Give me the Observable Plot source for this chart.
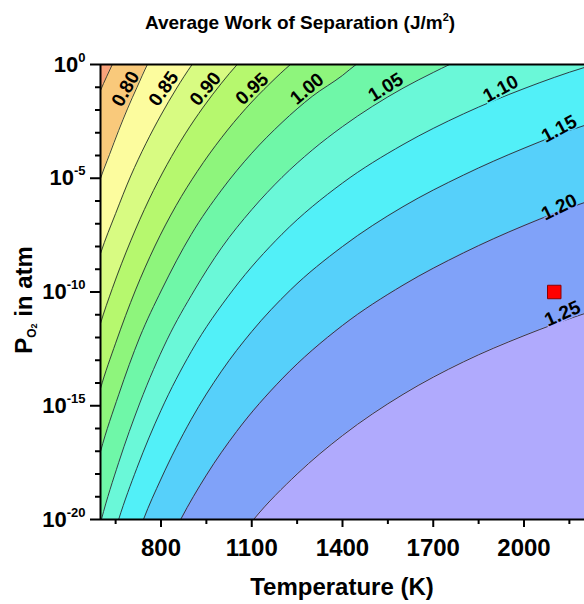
<!DOCTYPE html>
<html><head><meta charset="utf-8">
<script src="https://cdn.jsdelivr.net/npm/d3@7"></script>
<script src="https://cdn.jsdelivr.net/npm/@observablehq/plot@0.6"></script>
<style>body{margin:0;background:#fff}</style>
</head><body><div id="chart"></div>
<script>
// contour levels and the fill colour of each band (first = below the lowest level)
const levels = [0.75, 0.80, 0.85, 0.90, 0.95, 1.00, 1.05, 1.10, 1.15, 1.20, 1.25];
const bandColors = ["#f9a27a", "#f9c97b", "#fcfc9e", "#d8fb82", "#b6f86e", "#8ef57c",
                    "#6ff7a8", "#6af8d8", "#52f0f8", "#56d0fa", "#80a2f9", "#b0aafd"];

// contour lines: [Temperature K, log10(P_O2 / atm)]
const c075 = [[580,-1.79],[600,-1.14],[620,-0.54],[639,0],[660,0.57],[2400,2]];
const c080 = [[580,-5.86],[600,-5.01],[630,-3.95],[660,-2.9],[690,-1.92],[720,-1.02],[755,0],[790,0.86],[2400,2]];
const c085 = [[580,-9.16],[600,-8.31],[650,-6.55],[700,-4.9],[750,-3.48],[800,-2.22],[850,-1.08],[903,0],[950,0.81],[2400,2]];
const c090 = [[580,-12.29],[600,-11.38],[639,-9.85],[700,-7.75],[760,-5.95],[820,-4.4],[880,-3.05],[940,-1.87],[1000,-0.82],[1052,0],[1100,0.66],[2400,2]];
const c095 = [[580,-15.2],[600,-14.24],[650,-12.25],[716,-9.91],[780,-7.98],[850,-6.2],[920,-4.7],[1000,-3.22],[1080,-1.94],[1160,-0.84],[1228,0],[1280,0.55],[2400,2]];
const c100 = [[580,-18.02],[600,-17.01],[660,-14.52],[730,-11.98],[802,-9.91],[900,-7.47],[1000,-5.52],[1100,-3.9],[1200,-2.55],[1300,-1.4],[1400,-0.48],[1445,0],[1500,0.44],[2400,2]];
const c105 = [[580,-21.22],[603,-20],[660,-17.5],[730,-14.88],[820,-12.1],[911,-9.91],[1000,-8.06],[1100,-6.38],[1200,-4.96],[1300,-3.76],[1400,-2.73],[1500,-1.83],[1600,-1.04],[1700,-0.35],[1754,0],[1820,0.38],[2400,2]];
const c110 = [[640,-20.88],[660,-20],[720,-17.75],[800,-15.2],[900,-12.62],[1038,-9.91],[1200,-7.46],[1400,-5.21],[1600,-3.52],[1800,-2.17],[2000,-1.06],[2200,-0.13],[2260,0.1]];
const c115 = [[720,-20.8],[742,-20],[800,-18.22],[900,-15.6],[1000,-13.48],[1100,-11.74],[1228,-9.91],[1400,-8.0],[1600,-6.25],[1800,-4.86],[2000,-3.68],[2200,-2.68],[2260,-2.45]];
const c120 = [[840,-20.65],[865,-20],[950,-18.05],[1050,-16.13],[1200,-13.82],[1400,-11.47],[1600,-9.7],[1800,-8.28],[2000,-7.08],[2200,-6.07],[2260,-5.83]];
const c125 = [[1080,-20.43],[1106,-20],[1250,-18.0],[1400,-16.31],[1600,-14.5],[1800,-13.07],[2000,-11.92],[2200,-10.95],[2260,-10.7]];
const contours = [c075, c080, c085, c090, c095, c100, c105, c110, c115, c120, c125];

// contour labels
const labelText  = ["0.80","0.85","0.90","0.95","1.00","1.05","1.10","1.15","1.20","1.25"];
const labelT     = [683, 809, 947, 1101, 1283, 1543, 1923, 2116, 2116, 2127];
const labelLogP  = [-1.07, -1.07, -1.07, -1.07, -1.07, -1.0, -1.07, -2.83, -6.27, -10.95];
const labelAngle = [-60, -55, -50, -43, -40, -32, -28, -28, -26, -24];

// marked point
const markerT = [2100];
const markerLogP = [-10];

// axis ticks
const xMajor = [800, 1100, 1400, 1700, 2000];
const xMinor = [650, 950, 1250, 1550, 1850, 2150];
const yMajorExp = [0, -5, -10, -15, -20];
const yMinorExp = [-1,-2,-3,-4,-6,-7,-8,-9,-11,-12,-13,-14,-16,-17,-18,-19];

const P = e => Math.pow(10, e);
const labels = labelText.map((t, i) => ({t, T: labelT[i], p: P(labelLogP[i]), a: labelAngle[i]}));
const markers = markerT.map((T, i) => ({T, p: P(markerLogP[i])}));

const chart = Plot.plot({
  width: 584, height: 604,
  marginTop: 64, marginBottom: 85, marginLeft: 100, marginRight: 0,
  style: {fontFamily: "Arial, 'Liberation Sans', sans-serif", background: "white", color: "black"},
  x: {domain: [600, 2200]},
  y: {type: "log", domain: [1e-20, 1]},
  marks: [
    Plot.frame({fill: bandColors[0], stroke: null}),
    ...contours.map((c, i) => Plot.areaY(c, {
      x: d => d[0], y1: 1e-30, y2: d => P(d[1]),
      fill: bandColors[i + 1], curve: "monotone-x", clip: true
    })),
    ...contours.map(c => Plot.line(c, {
      x: d => d[0], y: d => P(d[1]),
      stroke: "#2b2b2b", strokeWidth: 0.9, curve: "monotone-x", clip: true
    })),
    Plot.text(labels, {x: "T", y: "p", text: "t", rotate: "a", fontSize: 19, fontWeight: "bold", fill: "black"}),
    Plot.dot(markers, {x: "T", y: "p", symbol: "square", r: 7.6, fill: "#ff0000", stroke: "#8b0000", strokeWidth: 1}),
    Plot.ruleX([600], {strokeWidth: 2}),
    Plot.ruleY([1e-20, 1], {strokeWidth: 2}),
    Plot.axisX({ticks: xMajor, tickSize: 8, tickPadding: 11, fontSize: 24, fontWeight: "bold", strokeWidth: 2, tickFormat: d => String(d), label: null}),
    Plot.axisX({ticks: xMinor, tickSize: 5, strokeWidth: 2, tickFormat: () => "", label: null}),
    Plot.axisY({ticks: yMajorExp.map(P), tickSize: 10, tickPadding: 5, fontSize: 22, fontWeight: "bold", strokeWidth: 2,
                tickFormat: d => "10^" + Math.round(Math.log10(d)), label: null}),
    Plot.axisY({ticks: yMinorExp.map(P), tickSize: 5, strokeWidth: 2, tickFormat: () => "", label: null})
  ]
});
document.getElementById("chart").appendChild(chart);

const svg = d3.select(chart);
svg.selectAll("text").each(function() {
  const t = d3.select(this);
  const s = t.text();
  if (!s.includes("^")) return;
  const [base, exp] = s.split("^");
  t.text(base);
  t.append("tspan").attr("dy", -10).attr("font-size", 13).text(exp);
});

// break contour lines under their labels (as the original does)
const labelNodes = svg.selectAll('g[aria-label="text"] text').nodes();
if (labelNodes.length) {
  const defs = svg.append("defs");
  const mask = defs.append("mask").attr("id", "label-gap").attr("maskUnits", "userSpaceOnUse")
    .attr("x", 0).attr("y", 0).attr("width", 584).attr("height", 604);
  mask.append("rect").attr("x", 0).attr("y", 0).attr("width", 584).attr("height", 604).attr("fill", "white");
  const parent = labelNodes[0].parentNode;
  const pt = parent.getAttribute("transform");
  const mg = mask.append("g");
  if (pt) mg.attr("transform", pt);
  for (const n of labelNodes) {
    const c = n.cloneNode(true);
    c.setAttribute("fill", "black");
    c.setAttribute("stroke", "black");
    c.setAttribute("stroke-width", "3");
    c.setAttribute("font-size", "19");
    c.setAttribute("font-weight", "bold");
    c.setAttribute("text-anchor", "middle");
    mg.node().appendChild(c);
  }
  svg.selectAll('g[aria-label="line"]').attr("mask", "url(#label-gap)");
}

// titles
const ttl = svg.append("text").attr("x", 300).attr("y", 28.5).attr("text-anchor", "middle")
  .attr("font-size", 19).attr("font-weight", "bold").attr("fill", "black");
ttl.append("tspan").text("Average Work of Separation (J/m");
ttl.append("tspan").attr("font-size", 11).attr("dy", -8).text("2");
ttl.append("tspan").attr("dy", 8).text(")");

svg.append("text").attr("x", 342).attr("y", 595).attr("text-anchor", "middle")
  .attr("font-size", 24).attr("font-weight", "bold").attr("fill", "black").text("Temperature (K)");

const yt = svg.append("text").attr("transform", "translate(32,300) rotate(-90)").attr("text-anchor", "middle")
  .attr("font-size", 24).attr("font-weight", "bold").attr("fill", "black");
yt.append("tspan").text("P");
yt.append("tspan").attr("font-size", 12).attr("dy", 4).text("O");
yt.append("tspan").attr("font-size", 9).attr("dy", 1).text("2");
yt.append("tspan").attr("dy", -5).text(" in atm");
</script>
</body></html>
